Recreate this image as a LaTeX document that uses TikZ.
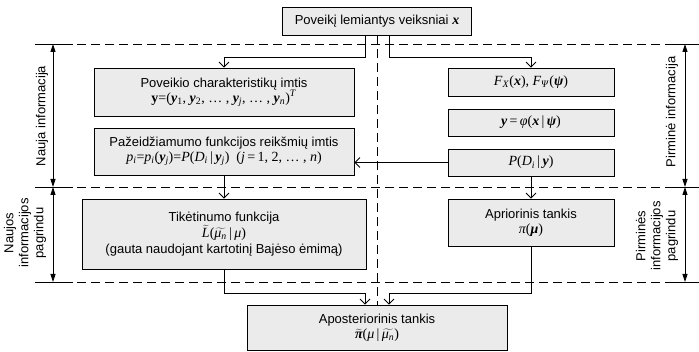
\documentclass[tikz,border=0pt]{standalone}
\usepackage{fontspec}
\setmainfont{Liberation Sans}
\newfontfamily\tms{Liberation Serif}
\usetikzlibrary{arrows.meta}
\definecolor{boxfill}{RGB}{235,235,235}
\newcommand{\vi}[1]{{\tms\itshape #1}}
\newcommand{\vb}[1]{{\tms\bfseries\itshape #1}}
\newcommand{\lo}[1]{\textsubscript{#1}}
\newcommand{\wt}[1]{\ensuremath{\widetilde{\hbox{#1}}}}
\newcommand{\mth}{\tms\fontsize{14}{16}\selectfont}
\tikzset{
  box/.style={draw, fill=boxfill, line width=0.8pt, align=center, inner sep=0pt,
    font=\fontsize{13}{16}\selectfont},
  conn/.style={draw, line width=0.8pt, -{Straight Barb[length=5pt,width=10pt]}},
  dim/.style={line width=0.8pt, {Triangle[length=8pt,width=5pt]}-{Triangle[length=8pt,width=5pt]}},
  dsh/.style={line width=0.8pt, dash pattern=on 9pt off 5pt},
  lbl/.style={rotate=90, align=center, font=\fontsize{13}{15}\selectfont, inner sep=0pt}
}
\begin{document}
\begin{tikzpicture}[x=1pt,y=-1pt]
\useasboundingbox (0,0) rectangle (699,352);
% horizontal dashed separators
\coordinate (hL1) at (35,44);  \coordinate (hR1) at (699,44);
\coordinate (hL2) at (35,187); \coordinate (hR2) at (699,187);
\coordinate (hL3) at (35,282); \coordinate (hR3) at (699,282);
\draw[dsh] (hL1) -- (hR1);
\draw[dsh] (hL2) -- (hR2);
\draw[dsh] (hL3) -- (hR3);
\foreach \y in {44,187,282}{
  \draw[line width=0.8pt] (35,\y) -- (73,\y);
  \draw[line width=0.8pt] (665,\y) -- (699,\y);
}
% boxes
\node[box, minimum width=189pt, minimum height=28pt] (top) at (377,21)
  {Poveikį lemiantys veiksniai {\mth\vb{x}}};
\node[box, minimum width=260pt, minimum height=48pt] (b1) at (224,92)
  {Poveikio charakteristikų imtis\\[-1pt]
   {\mth\textbf{y}=(\vb{y}\lo{1}, \vb{y}\lo{2}, \dots\ , \vb{y}\lo{\textit{j}}, \dots\ ,\ \vb{y}\lo{\textit{n}})\textsuperscript{\textit{T}}}};
\node[box, minimum width=260pt, minimum height=47pt] (b2) at (224,151.5)
  {Pažeidžiamumo funkcijos reikšmių imtis\\[-1pt]
   {\mth\vi{p\lo{i}}=\vi{p\lo{i}}(\vb{y}\lo{\textit{j}})=\vi{P}(\vi{D}\lo{\textit{i}}\,|\,\vb{y}\lo{\textit{j}})\ \ (\vi{j}\,=\,1, 2, \dots\ , \vi{n})}};
\node[box, minimum width=284pt, minimum height=70pt] (b3) at (224,234)
  {Tikėtinumo funkcija\\[0pt]
   {\mth\wt{\vi{L}}(\wt{\vi{μ}\lo{\textit{n}}}\,|\,\vi{μ})}\\[0pt]
   (gauta naudojant kartotinį Bajėso ėmimą)};
\node[box, minimum width=166pt, minimum height=28pt] (r1) at (531,82)
  {\mth\vi{F}\lo{\textit{X}}(\vb{x}), \vi{F}\lo{\textit{Ψ}}(\vb{ψ})};
\node[box, minimum width=166pt, minimum height=27pt] (r2) at (531,122.5)
  {\mth\vb{y}\,=\,\vi{φ}(\vb{x}\,|\,\vb{ψ})};
\node[box, minimum width=166pt, minimum height=27pt] (r3) at (531,162.5)
  {\mth\vi{P}(\vi{D}\lo{\textit{i}}\,|\,\vb{y})};
\node[box, minimum width=166pt, minimum height=47pt] (r4) at (531,222.5)
  {Apriorinis tankis\\[-1pt]{\mth\vi{π}(\vb{μ})}};
\node[box, minimum width=260pt, minimum height=45pt] (fin) at (377,327.5)
  {Aposteriorinis tankis\\[-1pt]{\mth\wt{\vb{π}}(\vi{μ}\,|\,\wt{\vi{μ}\lo{\textit{n}}})}};
% vertical dashed divider
\draw[dsh] (top.south) -- (fin.north);
% junctions
\coordinate (j1) at (224,57);
\coordinate (j2) at (531,57);
\coordinate (j3) at (365,293);
\coordinate (j4) at (389,293);
% connectors
\draw[conn] ([xshift=-12pt]top.south) |- (j1) -- (b1.north);
\draw[conn] ([xshift=12pt]top.south) |- (j2) -- (r1.north);
\draw[conn] (b2.south) -- (b3.north);
\draw[conn] (r3.west) -- (b2.east |- r3.west);
\draw[conn] (r3.south) -- (r4.north);
\draw[conn] (b3.south) |- (j3) -- ([xshift=-12pt]fin.north);
\draw[conn] (r4.south) |- (j4) -- ([xshift=12pt]fin.north);
% dimension arrows
\coordinate (dl1) at (53,44); \coordinate (dl2) at (53,187); \coordinate (dl3) at (53,282);
\coordinate (dr1) at (685,44); \coordinate (dr2) at (685,187); \coordinate (dr3) at (685,282);
\draw[dim] (dl1) -- (dl2);
\draw[dim] (dl2) -- (dl3);
\draw[dim] (dr1) -- (dr2);
\draw[dim] (dr2) -- (dr3);
% side labels
\node[lbl] (ln1) at (42,116) {Nauja informacija};
\node[lbl] (ln2) at (25,233) {Naujos\\informacijos\\pagrindu};
\node[lbl] (rn1) at (672,112) {Pirminė informacija};
\node[lbl] (rn2) at (657,236) {Pirminės\\informacijos\\pagrindu};
\end{tikzpicture}
\end{document}
